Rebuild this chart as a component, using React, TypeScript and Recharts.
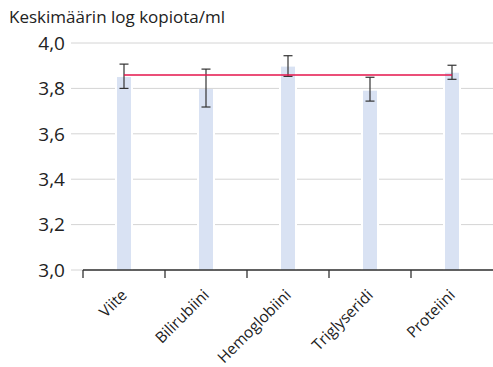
import React from "react";
import {
  ComposedChart,
  Bar,
  Line,
  ErrorBar,
  XAxis,
  YAxis,
  CartesianGrid,
} from "recharts";

const categories = ["Viite", "Bilirubiini", "Hemoglobiini", "Triglyseridi", "Proteiini"];
const means = [3.85, 3.797, 3.896, 3.79, 3.869];
const upper = [3.907, 3.885, 3.944, 3.849, 3.902];
const lower = [3.8, 3.718, 3.853, 3.744, 3.84];
const referenceMean = 3.859;
const yTicks = [3.0, 3.2, 3.4, 3.6, 3.8, 4.0];

const data = categories.map((name, i) => ({
  name,
  mean: means[i],
  err: [means[i] - lower[i], upper[i] - means[i]],
  ref: referenceMean,
}));

const FONT = "'Open Sans', sans-serif";

const CategoryTick = (props: any) => {
  const { x, y, payload } = props;
  const half = payload && payload.offset ? payload.offset : 41;
  const tx = x + 4;
  const ty = y + 26;
  return (
    <g>
      <line x1={x - half} y1={y} x2={x - half} y2={y + 8} stroke="#333" strokeWidth={1.3} />
      <text
        x={tx}
        y={ty}
        textAnchor="end"
        transform={`rotate(-45, ${tx}, ${ty})`}
        fontFamily={FONT}
        fontSize={15.5}
        fill="#222"
      >
        {payload.value}
      </text>
    </g>
  );
};

const BarShape = (props: any) => {
  const { x, y, width, height, fill } = props;
  if (!height || height <= 0) return null;
  return (
    <g>
      <rect x={x - 2} y={y} width={width + 4} height={height} fill="#fff" />
      <rect x={x} y={y} width={width} height={height} fill={fill} />
    </g>
  );
};

export default function App() {
  return (
    <div style={{ position: "absolute", left: 0, top: 0, width: 493, height: 367, background: "#fff" }}>
      <div
        style={{
          position: "absolute",
          left: 9,
          top: 5,
          fontFamily: FONT,
          fontSize: 17,
          color: "#222",
          whiteSpace: "nowrap",
        }}
      >
        Keskimäärin log kopiota/ml
      </div>
      <ComposedChart
        width={493}
        height={367}
        data={data}
        margin={{ top: 43, right: 0, bottom: 0, left: 0 }}
      >
        <CartesianGrid vertical={false} stroke="#d4d4d4" strokeWidth={1} />
        <YAxis
          type="number"
          domain={[3, 4]}
          ticks={yTicks}
          width={83}
          axisLine={false}
          tickLine={{ stroke: "#d4d4d4" }}
          tickSize={12}
          tickMargin={6}
          tick={{ fontFamily: FONT, fontSize: 19, fill: "#222" }}
          tickFormatter={(v: number) => v.toFixed(1).replace(".", ",")}
        />
        <XAxis
          dataKey="name"
          height={97}
          axisLine={{ stroke: "#333", strokeWidth: 1.3 }}
          tickLine={false}
          tickSize={0}
          tickMargin={0}
          interval={0}
          tick={<CategoryTick />}
        />
        <Bar dataKey="mean" fill="#d9e2f3" barSize={14} shape={<BarShape />} isAnimationActive={false}>
          <ErrorBar dataKey="err" width={4.5} stroke="#333" strokeWidth={1.2} direction="y" />
        </Bar>
        <Line
          dataKey="ref"
          stroke="#e4154b"
          strokeWidth={1.5}
          dot={false}
          activeDot={false}
          isAnimationActive={false}
        />
      </ComposedChart>
    </div>
  );
}
